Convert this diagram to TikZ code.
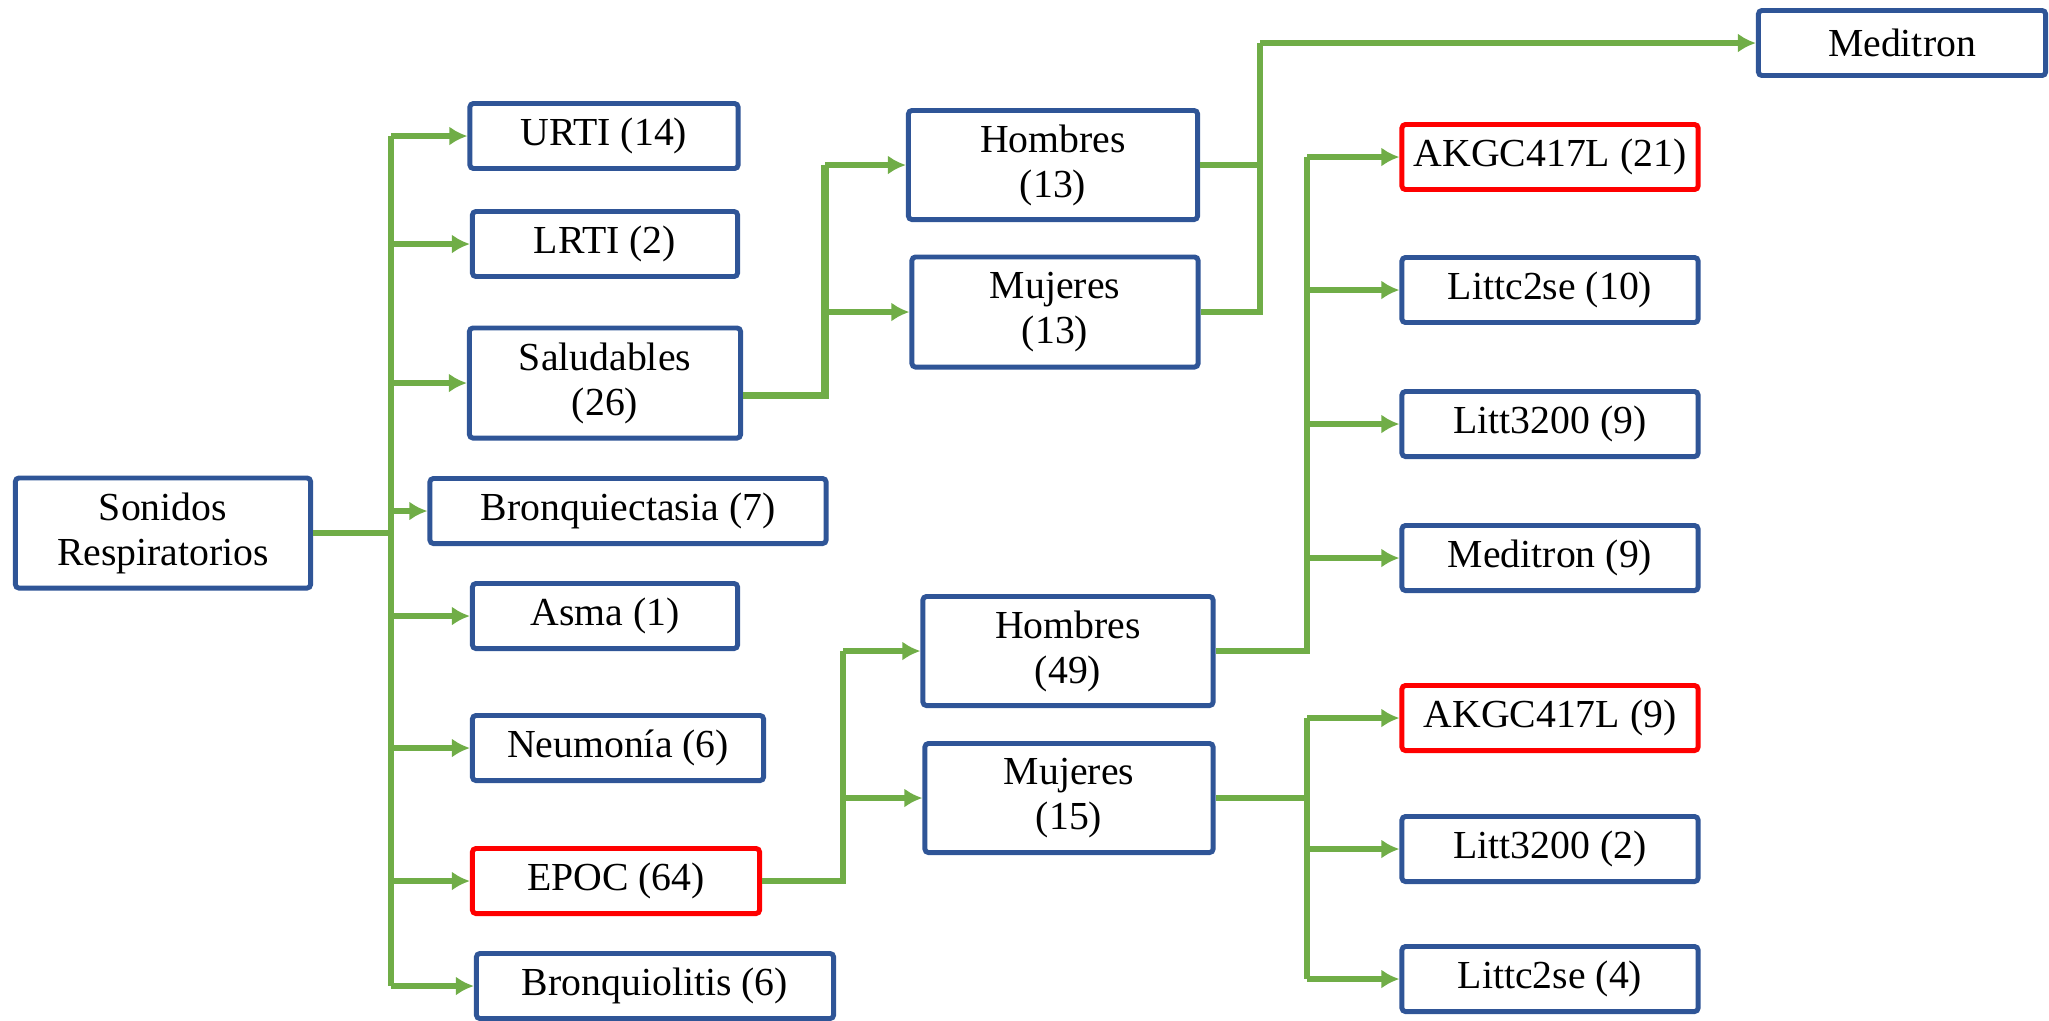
\documentclass[tikz,border=0pt]{standalone}
\usepackage{fontspec}
\setmainfont{Liberation Serif}
\usetikzlibrary{arrows.meta,positioning}
\definecolor{boxblue}{HTML}{2F5597}
\definecolor{linkgreen}{HTML}{70AD47}

\begin{document}
\begin{tikzpicture}[
    x=0.01cm, y=-0.01cm,
    font=\fontsize{11.3}{12.8}\selectfont,
    stage/.style={draw=boxblue, line width=1.4pt, rounded corners=1pt, align=center, inner sep=0pt, fill=white, minimum height=0.65cm},
    hot/.style={stage, draw=red},
    link/.style={draw=linkgreen, line width=1.5pt},
    bus/.style={link, -{Latex[length=1.8mm, width=1.9mm]}}
  ]
  \useasboundingbox (0,0) rectangle (2049,1020);

  % root and first level
  \node[stage, minimum width=2.95cm, minimum height=1.10cm] (root) at (163,533) {Sonidos\\Respiratorios};
  \node[stage, minimum width=2.68cm] (urti) at (604,136) {URTI (14)};
  \node[stage, minimum width=2.65cm] (lrti) at (605,244) {LRTI (2)};
  \node[stage, minimum width=2.71cm, minimum height=1.10cm] (salud) at (605,383) {Saludables\\(26)};
  \node[stage, minimum width=3.96cm] (bronq) at (628,511) {Bronquiectasia (7)};
  \node[stage, minimum width=2.65cm] (asma) at (605,616) {Asma (1)};
  \node[stage, minimum width=2.91cm] (neum) at (618,748) {Neumonía (6)};
  \node[hot, minimum width=2.87cm] (epoc) at (616,881) {EPOC (64)};
  \node[stage, minimum width=3.57cm] (bronquio) at (655,986) {Bronquiolitis (6)};

  % second level
  \node[stage, minimum width=2.89cm, minimum height=1.09cm] (hom1) at (1053,165) {Hombres\\(13)};
  \node[stage, minimum width=2.86cm, minimum height=1.10cm] (muj1) at (1055,312) {Mujeres\\(13)};
  \node[stage, minimum width=2.90cm, minimum height=1.09cm] (hom2) at (1068,651) {Hombres\\(49)};
  \node[stage, minimum width=2.88cm, minimum height=1.09cm] (muj2) at (1069,798) {Mujeres\\(15)};

  % devices
  \node[stage, minimum width=2.87cm] (medit) at (1902,43) {Meditron};
  \node[hot, minimum width=2.96cm] (akgc1) at (1550,157) {AKGC417L (21)};
  \node[stage, minimum width=2.96cm] (littc1) at (1550,290) {Littc2se (10)};
  \node[stage, minimum width=2.96cm] (litt1) at (1550,424) {Litt3200 (9)};
  \node[stage, minimum width=2.96cm] (medit2) at (1550,558) {Meditron (9)};
  \node[hot, minimum width=2.96cm] (akgc2) at (1550,718) {AKGC417L (9)};
  \node[stage, minimum width=2.96cm] (litt2) at (1550,849) {Litt3200 (2)};
  \node[stage, minimum width=2.96cm] (littc2) at (1550,979) {Littc2se (4)};

  % junctions
  \coordinate (trunk) at (391,533);
  \coordinate (jsal) at (825,395);
  \coordinate (jtop) at (1260,43);
  \coordinate (jepoc) at (843,881);
  \coordinate (jhom) at (1307,651);
  \coordinate (jmuj) at (1307,798);

  \draw[link] (root) -- (trunk);
  \draw[link] (trunk |- urti) -- (trunk |- bronquio);
  \foreach \n in {urti,lrti,salud,bronq,asma,neum,epoc,bronquio}
    \draw[bus] (trunk |- \n) -- (\n);

  \draw[link, line width=2pt] (salud.east |- jsal) -| (jsal |- hom1);
  \foreach \n in {hom1,muj1}
    \draw[bus] (jsal |- \n) -- (\n);

  \draw[link] (hom1) -- (jtop |- hom1);
  \draw[link] (muj1) -| (jtop);
  \draw[bus] (jtop) -- (medit);

  \draw[link] (epoc) -| (jepoc |- hom2);
  \foreach \n in {hom2,muj2}
    \draw[bus] (jepoc |- \n) -- (\n);

  \draw[link] (hom2) -| (jhom |- akgc1);
  \foreach \n in {akgc1,littc1,litt1,medit2}
    \draw[bus] (jhom |- \n) -- (\n);

  \draw[link] (muj2) -- (jmuj);
  \draw[link] (jmuj |- akgc2) -- (jmuj |- littc2);
  \foreach \n in {akgc2,litt2,littc2}
    \draw[bus] (jmuj |- \n) -- (\n);
\end{tikzpicture}
\end{document}
